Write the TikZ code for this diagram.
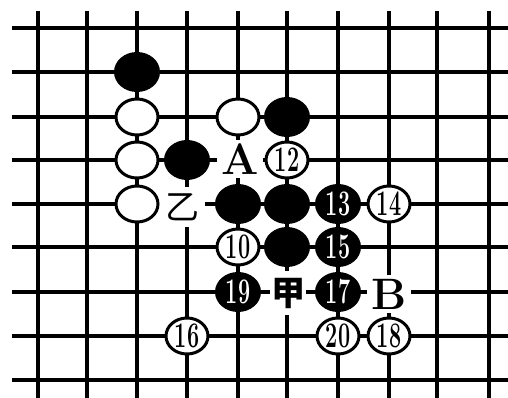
\documentclass[tikz,border=0pt]{standalone}
\usepackage{fontspec}
\usepackage{graphicx}
\newfontfamily\cjkfont{Noto Sans CJK SC}
\usetikzlibrary{shapes.geometric}
\newcommand\stnum[1]{\fontsize{36}{36}\selectfont\bfseries\scalebox{0.6}[1]{#1}}
\begin{document}
\begin{tikzpicture}[x=1pt,y=-1pt,
  gridline/.style={line width=4pt},
  stoneW/.style={ellipse, draw=black, line width=3pt, fill=white, minimum width=42pt, minimum height=36pt, inner sep=0pt},
  stoneB/.style={ellipse, fill=black, minimum width=46pt, minimum height=40pt, inner sep=0pt, text=white},
  lettermark/.style={fill=white, inner sep=4pt, font=\fontsize{44}{44}\selectfont\bfseries},
  cjkmark/.style={fill=white, inner sep=4pt, font=\cjkfont\fontsize{34}{34}\selectfont}
]
\useasboundingbox (0,0) rectangle (508,398);
\fill[white] (0,0) rectangle (508,398);
% grid
\foreach \x in {38,87,137,187,238,287,338,389,437,489}
  \draw[gridline] (\x,11) -- (\x,398);
\foreach \y in {28,72,117,160,204,247,292,336,380}
  \draw[gridline] (12,\y) -- (508,\y);
% labels
\node[lettermark] (A) at (240,159) {A};
\node[lettermark] (B) at (389,294) {B};
\node[cjkmark, inner xsep=1pt, inner ysep=7pt, font=\cjkfont\fontsize{34}{34}\selectfont\bfseries] (jia) at (288,293) {甲};
\node[cjkmark, inner sep=6pt] (yi) at (182,207) {乙};
% black stones
\node[stoneB] (b1) at (137,72) {};
\node[stoneB] (b2) at (287,117) {};
\node[stoneB] (b3) at (187,160) {};
\node[stoneB] (b4) at (238,204) {};
\node[stoneB] (b5) at (287,204) {};
\node[stoneB] (b6) at (287,247) {};
\node[stoneB] (b13) at (338,204) {\stnum{13}};
\node[stoneB] (b15) at (338,247) {\stnum{15}};
\node[stoneB] (b17) at (338,292) {\stnum{17}};
\node[stoneB] (b19) at (238,292) {\stnum{19}};
% white stones
\node[stoneW] (w1) at (137,117) {};
\node[stoneW] (w2) at (238,117) {};
\node[stoneW] (w3) at (137,160) {};
\node[stoneW] (w4) at (137,204) {};
\node[stoneW] (w10) at (238,247) {\stnum{10}};
\node[stoneW] (w12) at (287,160) {\stnum{12}};
\node[stoneW] (w14) at (389,204) {\stnum{14}};
\node[stoneW] (w16) at (187,336) {\stnum{16}};
\node[stoneW] (w18) at (389,336) {\stnum{18}};
\node[stoneW] (w20) at (338,336) {\stnum{20}};
\end{tikzpicture}
\end{document}
